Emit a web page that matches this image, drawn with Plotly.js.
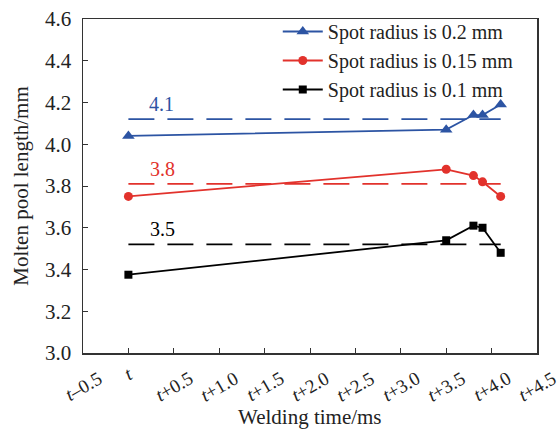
<!DOCTYPE html>
<html>
<head>
<meta charset="utf-8">
<script src="https://cdn.plot.ly/plotly-3.0.1.min.js"></script>
<style>html,body{margin:0;padding:0;background:#fff;}#chart{width:559px;height:436px;}</style>
</head>
<body>
<div id="chart"></div>
<script>
// Data
const timeX = [0, 3.5, 3.8, 3.9, 4.1];
const r02 = [4.04, 4.07, 4.14, 4.14, 4.19];
const r015 = [3.75, 3.88, 3.85, 3.82, 3.75];
const r01 = [3.375, 3.54, 3.61, 3.60, 3.48];
const avgX = [0, 4.1];
const avg02 = 4.12, avg015 = 3.81, avg01 = 3.52;
const avgLabels = ["4.1", "3.8", "3.5"];
const seriesNames = ["Spot radius is 0.2 mm", "Spot radius is 0.15 mm", "Spot radius is 0.1 mm"];
const tickVals = [-0.5, 0, 0.5, 1.0, 1.5, 2.0, 2.5, 3.0, 3.5, 4.0, 4.5];
const tickText = ["<i>t</i>–0.5", "<i>t</i>", "<i>t</i>+0.5", "<i>t</i>+1.0", "<i>t</i>+1.5", "<i>t</i>+2.0", "<i>t</i>+2.5", "<i>t</i>+3.0", "<i>t</i>+3.5", "<i>t</i>+4.0", "<i>t</i>+4.5"];
const xTitle = "Welding time/ms";
const yTitle = "Molten pool length/mm";

const blue = "#2c54a3", red = "#e2322c", black = "#000000";
const FONT = "Liberation Serif, Times New Roman, serif";
const TXT = "#222";
const DASH = "26px,13px";

const traces = [
  {x: timeX, y: r02, name: seriesNames[0], mode: "lines+markers", line: {color: blue, width: 1.8}, marker: {symbol: "triangle-up", size: 11, color: blue}},
  {x: timeX, y: r015, name: seriesNames[1], mode: "lines+markers", line: {color: red, width: 1.8}, marker: {symbol: "circle", size: 9, color: red}},
  {x: timeX, y: r01, name: seriesNames[2], mode: "lines+markers", line: {color: black, width: 1.8}, marker: {symbol: "square", size: 8, color: black}},
  {x: avgX, y: [avg02, avg02], mode: "lines", showlegend: false, hoverinfo: "skip", line: {color: blue, width: 1.7, dash: DASH}},
  {x: avgX, y: [avg015, avg015], mode: "lines", showlegend: false, hoverinfo: "skip", line: {color: red, width: 1.7, dash: DASH}},
  {x: avgX, y: [avg01, avg01], mode: "lines", showlegend: false, hoverinfo: "skip", line: {color: black, width: 1.7, dash: DASH}}
];

// x tick labels drawn as rotated, centred annotations at the tick values
const tickAnnots = tickVals.map((v, i) => ({
  x: v, xref: "x", y: 0, yref: "paper",
  text: tickText[i], showarrow: false, textangle: -30,
  xanchor: "center", yanchor: "middle",
  yshift: tickText[i] === "<i>t</i>" ? -20 : -33,
  font: {family: FONT, size: 19, color: TXT}
}));

const layout = {
  width: 559, height: 436,
  margin: {l: 83, r: 22, t: 19, b: 83},
  paper_bgcolor: "#fff", plot_bgcolor: "#fff",
  font: {family: FONT, size: 21, color: TXT},
  showlegend: true,
  legend: {x: 0.429, y: 1.021, xanchor: "left", yanchor: "top", bgcolor: "rgba(0,0,0,0)", itemwidth: 40,
           font: {family: FONT, size: 20, color: TXT}, tracegroupgap: 0},
  xaxis: {
    range: [-0.5, 4.5], tickvals: tickVals, showticklabels: false,
    ticks: "inside", ticklen: 5, tickcolor: "#333", showline: true, linecolor: "#333", linewidth: 1.5, mirror: true,
    showgrid: false, zeroline: false
  },
  yaxis: {
    range: [3.0, 4.6], dtick: 0.2, tickformat: ".1f",
    ticks: "inside", ticklen: 5, tickcolor: "#333", showline: true, linecolor: "#333", linewidth: 1.5, mirror: true,
    ticklabelstandoff: 6,
    showgrid: false, zeroline: false, tickfont: {family: FONT, size: 21, color: TXT},
    title: {text: yTitle, font: {family: FONT, size: 21, color: TXT}, standoff: 10}
  },
  annotations: [
    {x: 0.36, y: avg02, yshift: 15, text: avgLabels[0], showarrow: false, font: {family: FONT, size: 20, color: blue}},
    {x: 0.38, y: avg015, yshift: 15, text: avgLabels[1], showarrow: false, font: {family: FONT, size: 20, color: red}},
    {x: 0.38, y: avg01, yshift: 15, text: avgLabels[2], showarrow: false, font: {family: FONT, size: 20, color: black}},
    {x: 0.5, xref: "paper", y: 0, yref: "paper", yshift: -64, xanchor: "center", yanchor: "middle",
     text: xTitle, showarrow: false, font: {family: FONT, size: 21, color: TXT}}
  ].concat(tickAnnots)
};

Plotly.newPlot("chart", traces, layout, {displayModeBar: false, staticPlot: true});
</script>
</body>
</html>
